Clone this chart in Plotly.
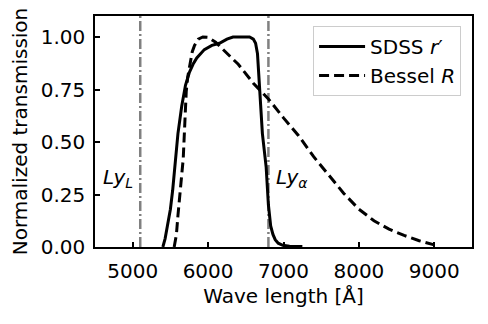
import plotly.graph_objects as go

# SDSS r' filter transmission (normalized)
sdss_wl = [5400, 5430, 5460, 5500, 5530, 5560, 5600, 5650, 5700, 5750, 5800, 5850, 5950,
           6050, 6150, 6250, 6330, 6450, 6550, 6600, 6630, 6655, 6680, 6720, 6770,
           6800, 6830, 6860, 6890, 6930, 6990, 7080, 7250]
sdss_tr = [0.0, 0.04, 0.10, 0.18, 0.27, 0.38, 0.54, 0.67, 0.77, 0.83, 0.87, 0.90, 0.94,
           0.96, 0.97, 0.99, 1.0, 1.0, 1.0, 0.99, 0.97, 0.92, 0.76, 0.54, 0.38,
           0.20, 0.10, 0.06, 0.035, 0.018, 0.008, 0.004, 0.002]

# Bessel R filter transmission (normalized)
bessel_wl = [5550, 5580, 5600, 5640, 5670, 5690, 5710, 5730, 5755, 5790, 5820, 5870, 5930,
             6000, 6100, 6200, 6300, 6400, 6600, 6800, 7000, 7200, 7400, 7600, 7800,
             8000, 8200, 8400, 8600, 8800, 9000]
bessel_tr = [0.0, 0.06, 0.15, 0.30, 0.42, 0.58, 0.74, 0.81, 0.87, 0.93, 0.96, 0.99, 1.0,
             0.998, 0.975, 0.94, 0.905, 0.87, 0.78, 0.705, 0.615, 0.53, 0.43, 0.34, 0.255,
             0.18, 0.125, 0.085, 0.055, 0.03, 0.01]

# redshifted Lyman limit and Lyman alpha
ly_lines = [5100, 6800]
ly_labels = ["<i>Ly</i><sub><i>L</i></sub>", "<i>Ly</i><sub><i>α</i></sub>"]
ly_label_x = [4805, 7110]

fig = go.Figure()

for xl in ly_lines:
    fig.add_trace(go.Scatter(
        x=[xl, xl], y=[0, 1.1], mode="lines",
        line=dict(color="#808080", width=2.5, dash="10px,3px,2px,3px"),
        showlegend=False, hoverinfo="skip"))

fig.add_trace(go.Scatter(
    x=sdss_wl, y=sdss_tr, mode="lines", name="SDSS <i>r</i>′",
    line=dict(color="black", width=3)))

fig.add_trace(go.Scatter(
    x=bessel_wl, y=bessel_tr, mode="lines", name="Bessel <i>R</i>",
    line=dict(color="black", width=3, dash="10px,5px")))

for tx, lab in zip(ly_label_x, ly_labels):
    fig.add_annotation(x=tx, y=0.33, text=lab, showarrow=False,
                       font=dict(size=20, color="black"))

axis_common = dict(showline=True, linecolor="black", linewidth=1.5, mirror=True,
                   ticks="inside", ticklen=5, tickwidth=1.5, tickcolor="black",
                   showgrid=False, zeroline=False,
                   tickfont=dict(size=20, color="black"))

# page body has an 8px margin, so the figure is a bit smaller and shifted
fig.update_layout(
    width=472, height=308,
    margin=dict(l=87, r=6, t=7, b=69),
    plot_bgcolor="white", paper_bgcolor="white",
    font=dict(family="DejaVu Sans", size=20, color="black"),
    xaxis=dict(range=[4500, 9500], tickvals=[5000, 6000, 7000, 8000, 9000],
               ticklabelstandoff=5,
               title=dict(text="Wave length [Å]", font=dict(size=20), standoff=7),
               **axis_common),
    yaxis=dict(range=[0, 1.1], tickvals=[0, 0.25, 0.5, 0.75, 1.0], tickformat=".2f",
               ticklabelstandoff=4,
               title=dict(text="Normalized transmission", font=dict(size=20), standoff=8),
               **axis_common),
    legend=dict(x=0.971, y=0.957, xanchor="right", yanchor="top",
                bgcolor="rgba(255,255,255,0.8)", bordercolor="#cccccc", borderwidth=1,
                font=dict(size=20), tracegroupgap=0, itemwidth=46),
)

fig.write_html("out.html")
